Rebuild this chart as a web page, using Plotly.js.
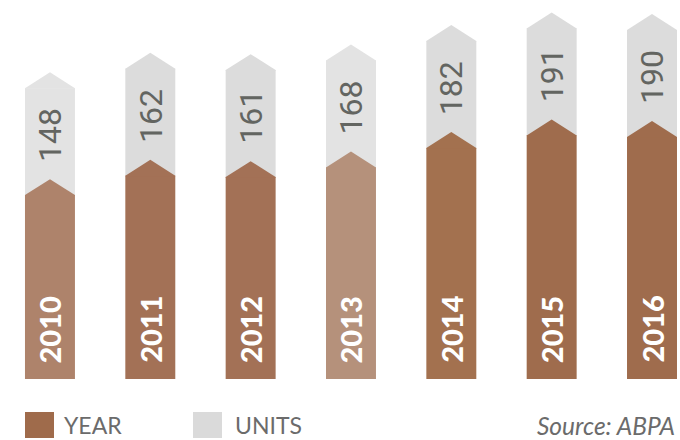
<!DOCTYPE html>
<html><head><meta charset="utf-8">
<script src="https://cdn.plot.ly/plotly-3.0.1.min.js"></script>
<style>html,body{margin:0;padding:0;background:#fff}</style>
</head><body><div id="chart" style="width:680px;height:440px"></div>
<script>
// ---- data ----
const years = ['2010','2011','2012','2013','2014','2015','2016'];
const units = [148, 162, 161, 168, 182, 191, 190];
const legendLabels = ['YEAR', 'UNITS'];
const sourceText = 'Source: ABPA';

// ---- style ----
const brownColors = ['#ae836b','#a37156','#a37156','#b5917b','#a3714f','#9f6c4d','#9f6c4d'];
const greyColors  = ['#e3e3e3','#dcdcdc','#dcdcdc','#e3e3e3','#dcdcdc','#dcdcdc','#dcdcdc'];
const GREY_H = 77.2;   // height of the grey "units" segment, in axis units
const TIP = 11.5;      // chevron tip height, in axis units
const HALF = 0.249;    // half bar width, in x units
const Y0 = 15.3, Y1 = 288.8;

const idx = years.map((_, i) => i);
const traces = [];

traces.push({
  type: 'bar', x: idx, y: units.map(() => GREY_H), base: units,
  width: 2 * HALF, marker: {color: greyColors, line: {width: 0}}, hoverinfo: 'skip'
});
traces.push({
  type: 'bar', x: idx, y: units, base: 0,
  width: 2 * HALF, marker: {color: brownColors, line: {width: 0}}, hoverinfo: 'skip'
});

idx.forEach(i => {
  const v = units[i];
  const g = v + GREY_H;
  traces.push({
    type: 'scatter', mode: 'none', fill: 'toself', fillcolor: greyColors[i],
    x: [i - HALF, i - HALF, i, i + HALF, i + HALF],
    y: [g - 0.4, g, g + TIP, g, g - 0.4], hoverinfo: 'skip'
  });
});
idx.forEach(i => {
  const v = units[i];
  traces.push({
    type: 'scatter', mode: 'none', fill: 'toself', fillcolor: brownColors[i],
    x: [i - HALF, i - HALF, i, i + HALF, i + HALF],
    y: [v - 0.4, v, v + TIP, v, v - 0.4], hoverinfo: 'skip'
  });
});

const annotations = [];
idx.forEach(i => {
  annotations.push({
    xref: 'x', yref: 'y', x: i, y: Y0, yshift: 14, text: years[i],
    textangle: -90, showarrow: false, xanchor: 'center', yanchor: 'bottom',
    font: {family: 'Lato', size: 29, color: '#ffffff', weight: 900}
  });
  annotations.push({
    xref: 'x', yref: 'y', x: i, y: units[i], yshift: 31, text: String(units[i]),
    textangle: -90, showarrow: false, xanchor: 'center', yanchor: 'bottom',
    font: {family: '"Liberation Sans Narrow", Roboto', size: 32, color: '#636561'}
  });
});

const PH = 379;
const legendFont = {family: 'Lato', size: 23, color: '#6b6b6b'};
annotations.push({xref: 'paper', yref: 'paper', x: 62/680, y: -46/PH, xanchor: 'left', yanchor: 'middle',
  text: legendLabels[0], showarrow: false, font: legendFont});
annotations.push({xref: 'paper', yref: 'paper', x: 233/680, y: -46/PH, xanchor: 'left', yanchor: 'middle',
  text: legendLabels[1], showarrow: false, font: legendFont});
annotations.push({xref: 'paper', yref: 'paper', x: 677/680, y: -46/PH, xanchor: 'right', yanchor: 'middle',
  text: '<i>' + sourceText + '</i>', showarrow: false, font: {family: 'Lato', size: 24.5, color: '#6b6b6b'}});

const shapes = [
  {type: 'rect', xref: 'paper', yref: 'paper', x0: 25/680, x1: 54/680, y0: -33/PH, y1: -59/PH,
   fillcolor: '#9f6b4b', line: {width: 0}},
  {type: 'rect', xref: 'paper', yref: 'paper', x0: 193/680, x1: 222/680, y0: -33/PH, y1: -59/PH,
   fillcolor: '#dadada', line: {width: 0}}
];

const layout = {
  width: 680, height: 440,
  margin: {l: 0, r: 0, t: 0, b: 61, pad: 0},
  barmode: 'overlay',
  showlegend: false,
  paper_bgcolor: '#ffffff', plot_bgcolor: '#ffffff',
  xaxis: {range: [-0.498, 6.279], visible: false, fixedrange: true},
  yaxis: {range: [Y0, Y1], visible: false, fixedrange: true},
  annotations: annotations,
  shapes: shapes
};

Plotly.newPlot('chart', traces, layout, {staticPlot: true, displayModeBar: false});
</script>
</body></html>
